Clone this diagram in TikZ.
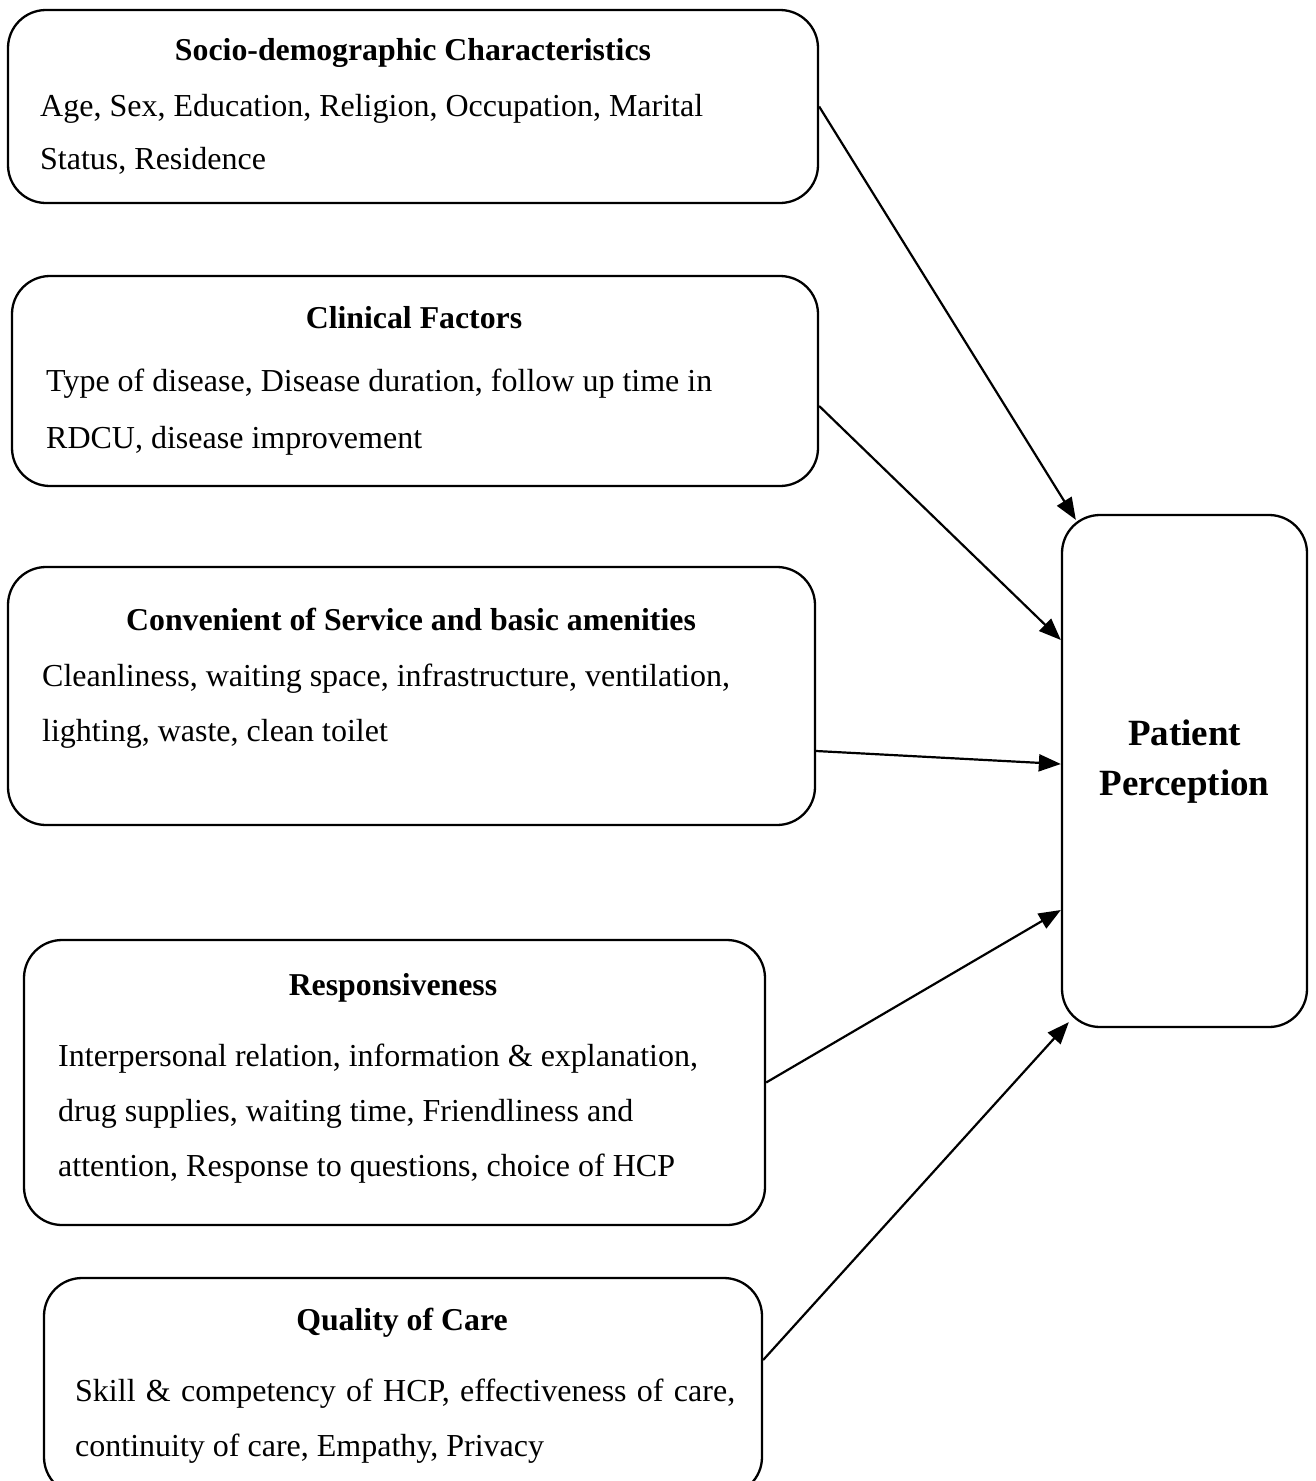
\documentclass[tikz,border=0pt]{standalone}
\usepackage{fontspec}
\setmainfont{Liberation Serif}
\usetikzlibrary{arrows.meta}
\begin{document}
\begin{tikzpicture}[x=1pt,y=-1pt,
  box/.style={draw,line width=2.3pt,rounded corners=38pt,inner sep=0pt},
  ttl/.style={inner sep=0pt,anchor=base,font=\fontsize{31.8pt}{38pt}\selectfont\bfseries},
  bodytxt/.style={inner sep=0pt,anchor=base west,font=\fontsize{32pt}{38pt}\selectfont},
  bigttl/.style={inner sep=0pt,anchor=base,font=\fontsize{37pt}{44pt}\selectfont\bfseries},
  arr/.style={line width=2.2pt,-{Triangle[length=22pt,width=17pt]}}]
\useasboundingbox[fill=white] (0,0) rectangle (1315,1481);
% boxes
\node[box,minimum width=810pt,minimum height=193pt] (b1) at (413,106.5) {};
\node[box,minimum width=806pt,minimum height=210pt] (b2) at (415,381) {};
\node[box,minimum width=807pt,minimum height=258pt] (b3) at (411.5,696) {};
\node[box,minimum width=741pt,minimum height=285pt] (b4) at (394.5,1082.5) {};
\node[box,minimum width=718pt,minimum height=217pt] (b5) at (403,1386.5) {};
\node[box,minimum width=245pt,minimum height=512pt] (b6) at (1184.5,771) {};
% texts
\node[ttl] (t1) at (413,60) {Socio-demographic Characteristics};
\node[bodytxt] (l1a) at (40,116) {Age, Sex, Education, Religion, Occupation, Marital};
\node[bodytxt] (l1b) at (40,169) {Status, Residence};
\node[ttl] (t2) at (414,328) {Clinical Factors};
\node[bodytxt] (l2a) at (46,391) {Type of disease, Disease duration, follow up time in};
\node[bodytxt] (l2b) at (46,448) {RDCU, disease improvement};
\node[ttl] (t3) at (411,630) {Convenient of Service and basic amenities};
\node[bodytxt] (l3a) at (42,686) {Cleanliness, waiting space, infrastructure, ventilation,};
\node[bodytxt] (l3b) at (42,741) {lighting, waste, clean toilet};
\node[ttl] (t4) at (393,995) {Responsiveness};
\node[bodytxt] (l4a) at (58,1066) {Interpersonal relation, information \& explanation,};
\node[bodytxt] (l4b) at (58,1121) {drug supplies, waiting time, Friendliness and};
\node[bodytxt] (l4c) at (58,1176) {attention, Response to questions, choice of HCP};
\node[ttl] (t5) at (402,1330) {Quality of Care};
\node[bodytxt] (l5a) at (75,1401) {\makebox[660pt][s]{Skill \& competency of HCP, effectiveness of care,}};
\node[bodytxt] (l5b) at (75,1456) {continuity of care, Empathy, Privacy};
\node[bigttl] (t6a) at (1184.5,745) {Patient};
\node[bigttl] (t6b) at (1184.5,795) {Perception};
% arrows
\draw[arr] (b1.east) -- ([xshift=15pt,yshift=-6pt]b6.north west);
\draw[arr] ([yshift=-25pt]b2.east) -- ([yshift=131pt]b6.west);
\draw[arr] ([yshift=-55pt]b3.east) -- ([yshift=7pt]b6.west);
\draw[arr] (b4.east) -- ([yshift=-139pt]b6.west);
\draw[arr] ([yshift=26.5pt]b5.east) -- ([xshift=8pt,yshift=6pt]b6.south west);
\end{tikzpicture}
\end{document}
